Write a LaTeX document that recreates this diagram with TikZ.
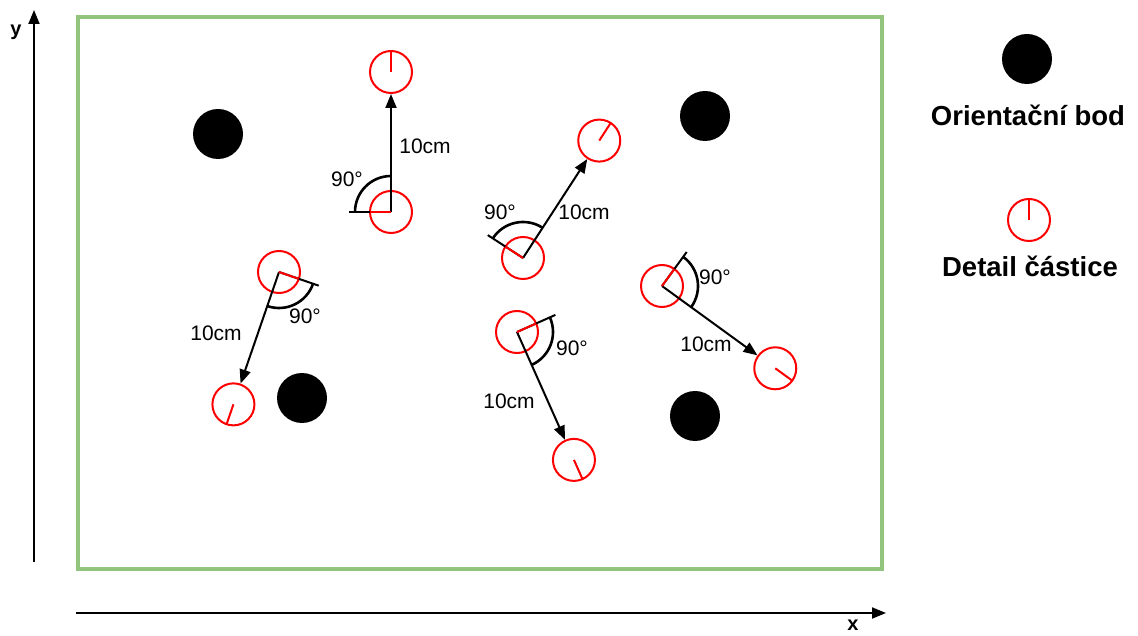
\documentclass[tikz,border=0pt]{standalone}
\usepackage{fontspec}
\setmainfont{Liberation Sans}
\usetikzlibrary{arrows.meta,calc}
\definecolor{framegreen}{HTML}{93C47D}

% One particle displacement: start circle, reference direction, 90 degree arc,
% 10 cm move arrow and the particle at its new place.
% #1 name, #2 start point, #3 direction of the move, #4 angle label, #5 length label
\newcommand{\particlemove}[5]{%
  \node[particle] (#1s) at (#2) {};
  \node[particle] (#1e) at ($(#2)+(#3:140)$) {};
  \path (#1s.center) ++(#3+90:42) coordinate (#1r);
  \draw[refline] (#1s.center) -- (#1r);
  \draw[anglearc] (#1s.center) ++(#3:36) arc[start angle=#3, delta angle=90, radius=36];
  \draw[move] (#1s.center) -- (#1e);
  \draw[tick] (#1s.center) -- ++(#3+90:21);
  \draw[tick] (#1e.center) -- ++(#3:21);
  \node[lbl] (#1a) at (#4) {90°};
  \node[lbl] (#1d) at (#5) {10cm};
}

\begin{document}
\begin{tikzpicture}[x=1pt,y=1pt,
  particle/.style={circle,draw=red,line width=2pt,minimum size=42pt,inner sep=0pt},
  landmark/.style={circle,fill=black,minimum size=50pt,inner sep=0pt},
  tick/.style={red,line width=2pt},
  move/.style={line width=2pt,-{Triangle[length=14pt,width=11pt]}},
  axis/.style={line width=2pt,-{Triangle[length=14pt,width=11pt]}},
  refline/.style={line width=2pt},
  anglearc/.style={line width=2.6pt},
  lbl/.style={inner sep=0pt,font=\fontsize{21}{25}\selectfont},
  legend/.style={inner sep=0pt,anchor=base,font=\bfseries\fontsize{27.5}{32}\selectfont},
  axislbl/.style={inner sep=0pt,font=\bfseries\fontsize{20}{24}\selectfont},
]
\useasboundingbox (0,0) rectangle (1138,635);

% field border
\draw[framegreen,line width=3.2pt] (78,66) rectangle (882,618);

% axes
\coordinate (ybot) at (34,73);
\coordinate (ytop) at (34,625);
\coordinate (xleft) at (76,22);
\coordinate (xright) at (886,22);
\draw[axis] (ybot) -- (ytop);
\draw[axis] (xleft) -- (xright);
\node[axislbl] (ylab) at (16,603) {y};
\node[axislbl,anchor=north] (xlab) at (853,15) {x};

% landmarks
\node[landmark] (l1) at (218,501) {};
\node[landmark] (l2) at (705,519) {};
\node[landmark] (l3) at (302,237) {};
\node[landmark] (l4) at (695,219) {};

% particle moves
\particlemove{A}{391,423}{90}{347,456}{425,489}
\particlemove{B}{523,377}{57}{500,423}{584,423}
\particlemove{C}{279,363}{-109}{305,319}{216,302}
\particlemove{D}{517,303}{-66}{572,287}{509,234}
\particlemove{E}{662,349}{-36}{715,358}{706,291}

% legend
\node[landmark] (kdot) at (1027,576) {};
\node[legend] (ktext1) at (1028,509) {Orientační bod};
\node[particle] (kpart) at (1029,415) {};
\draw[tick] (kpart.center) -- ++(90:21);
\node[legend] (ktext2) at (1030,358) {Detail částice};
\end{tikzpicture}
\end{document}
